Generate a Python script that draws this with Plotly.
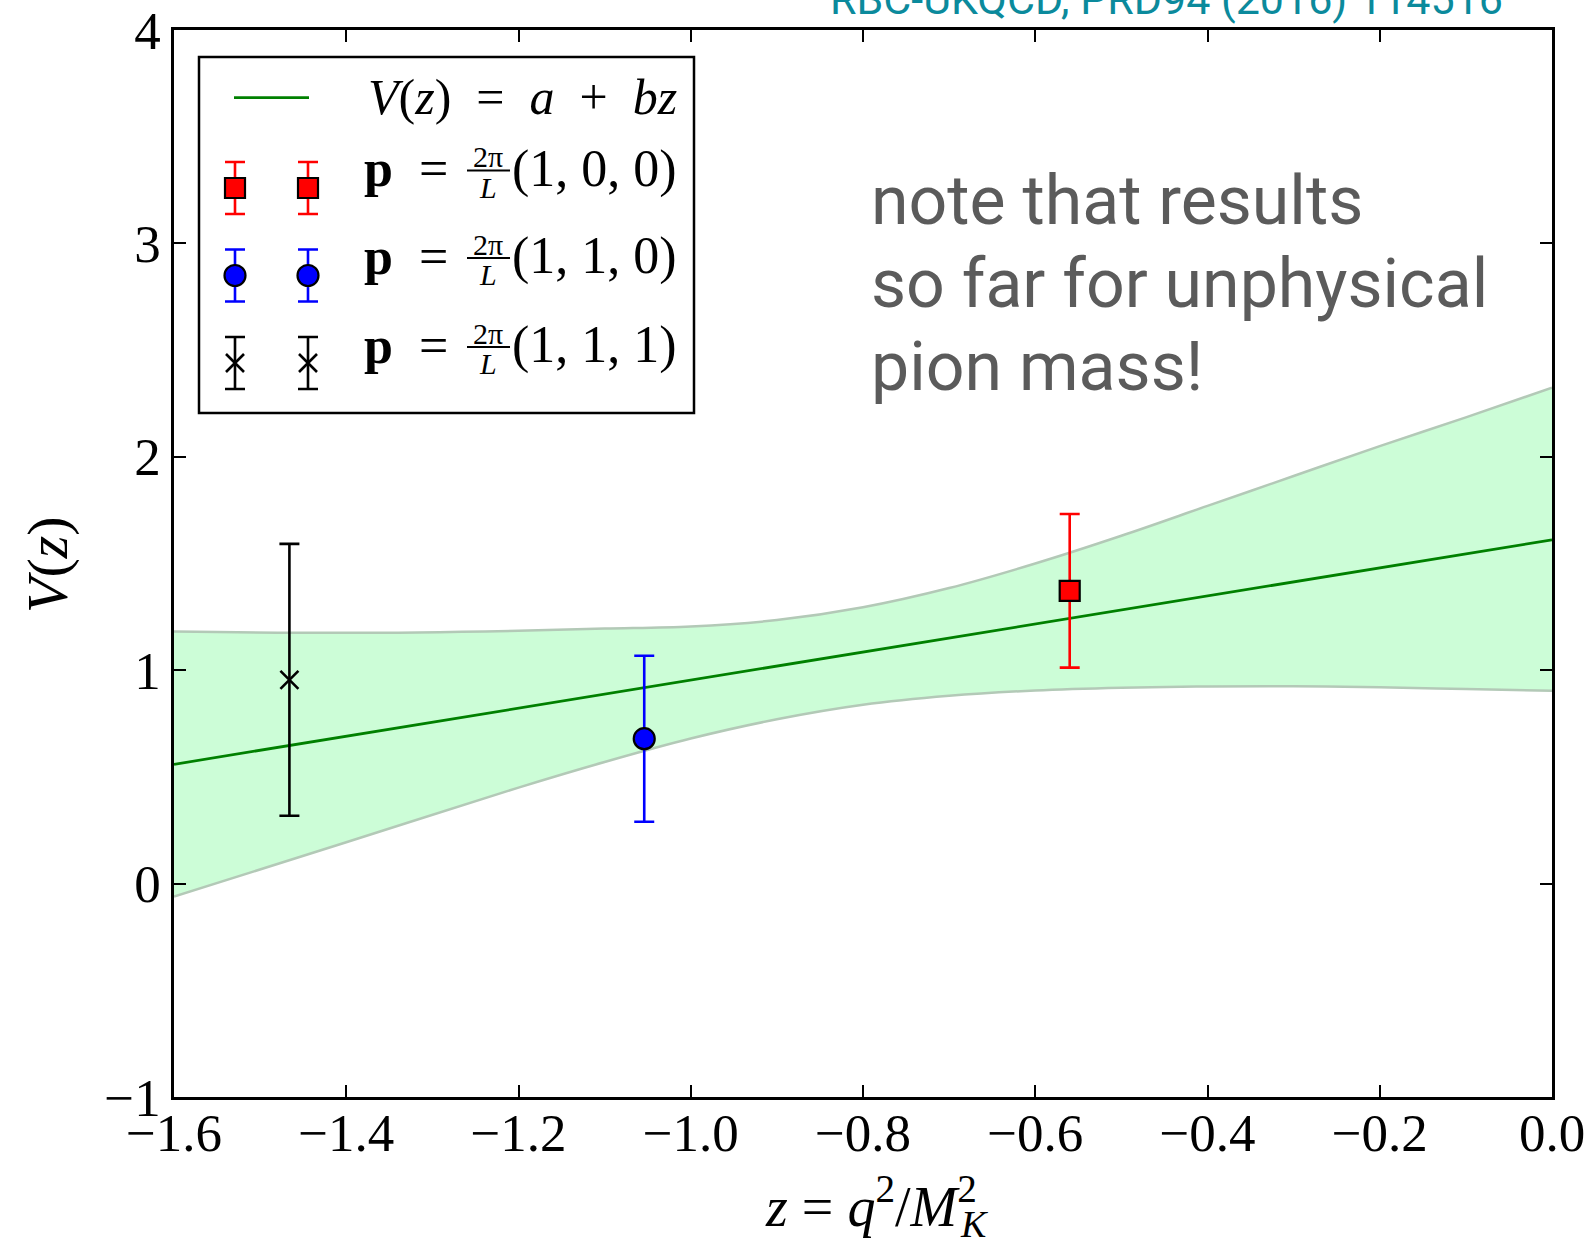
import plotly.graph_objects as go

# ---------------- data ----------------
z_111 = [-1.466]; V_111 = [0.955]; err_111 = [0.637]
z_110 = [-1.054]; V_110 = [0.679]; err_110 = [0.389]
z_100 = [-0.560]; V_100 = [1.372]; err_100 = [0.360]

fit_z = [-1.6, 0.0]
fit_V = [0.559, 1.611]

band_z = [-1.6, -1.4, -1.2, -1.1, -1.0, -0.9, -0.8, -0.7, -0.6, -0.5, -0.4, -0.3, -0.2, -0.1, 0.0]
band_upper = [1.181, 1.175, 1.185, 1.195, 1.205, 1.235, 1.295, 1.385, 1.50, 1.63, 1.77, 1.91, 2.05, 2.185, 2.324]
band_lower = [-0.061, 0.194, 0.45, 0.57, 0.68, 0.77, 0.838, 0.88, 0.905, 0.918, 0.924, 0.925, 0.92, 0.912, 0.904]

x_ticks = [-1.6, -1.4, -1.2, -1.0, -0.8, -0.6, -0.4, -0.2, 0.0]
y_ticks = [-1, 0, 1, 2, 3, 4]

legend_labels = ["(1, 0, 0)", "(1, 1, 0)", "(1, 1, 1)"]

# ---------------- styling / layout constants ----------------
W, H = 1591, 1239
L, R, T, B = 174, 39, 30, 142
PX0, PX1 = L, W - R          # plot area in pixels
PY0, PY1 = T, H - B

def px(x):
    return (x - L) / (W - L - R)

def py(y):
    return (H - B - y) / (H - T - B)

SERIF = "Liberation Serif"
SANS = "Roboto"
BAND_FILL = "#ccfdd7"
BAND_EDGE = "#b3c9b7"
GREEN = "#008000"

fig = go.Figure()

# error band
fig.add_trace(go.Scatter(x=band_z, y=band_lower, mode="lines",
                         line=dict(color=BAND_EDGE, width=2.5, shape="spline", smoothing=1.0),
                         showlegend=False, hoverinfo="skip"))
fig.add_trace(go.Scatter(x=band_z, y=band_upper, mode="lines", fill="tonexty",
                         fillcolor=BAND_FILL,
                         line=dict(color=BAND_EDGE, width=2.5, shape="spline", smoothing=1.0),
                         showlegend=False, hoverinfo="skip"))
# fit line
fig.add_trace(go.Scatter(x=fit_z, y=fit_V, mode="lines",
                         line=dict(color=GREEN, width=2.8), showlegend=False))

def err(arr, color):
    return dict(type="data", array=arr, visible=True, color=color, thickness=2.6, width=10)

MK_RED = dict(symbol="square", size=20, color="#ff0000", line=dict(color="black", width=2.2))
MK_BLUE = dict(symbol="circle", size=21, color="#0000ff", line=dict(color="black", width=2.2))
MK_X = dict(symbol="x-thin", size=18, color="black", line=dict(color="black", width=2.6))

# data points
fig.add_trace(go.Scatter(x=z_111, y=V_111, mode="markers", error_y=err(err_111, "black"),
                         marker=MK_X, showlegend=False))
fig.add_trace(go.Scatter(x=z_110, y=V_110, mode="markers", error_y=err(err_110, "#0000ff"),
                         marker=MK_BLUE, showlegend=False))
fig.add_trace(go.Scatter(x=z_100, y=V_100, mode="markers", error_y=err(err_100, "#ff0000"),
                         marker=MK_RED, showlegend=False))

# ---------------- hand-built legend (pixel overlay axes) ----------------
shapes = []
annotations = []
# legend frame
shapes.append(dict(type="rect", xref="x2", yref="y2", x0=199, x1=694, y0=57, y1=413,
                   line=dict(color="black", width=2.5), fillcolor="white", layer="below"))
# fit-line sample
shapes.append(dict(type="line", xref="x2", yref="y2", x0=234, x1=309, y0=97.7, y1=97.7,
                   line=dict(color=GREEN, width=2.8), layer="above"))

sample_x = [235, 308]
sample_rows = [188, 275.5, 363]
sample_styles = [(MK_RED, "#ff0000"), (MK_BLUE, "#0000ff"), (MK_X, "black")]
for yrow, (mk, ec) in zip(sample_rows, sample_styles):
    fig.add_trace(go.Scatter(x=sample_x, y=[yrow, yrow], xaxis="x2", yaxis="y2", mode="markers",
                             marker=mk, error_y=dict(type="constant", value=26, color=ec,
                                                     thickness=2.6, width=10),
                             showlegend=False, hoverinfo="skip"))

annotations.append(dict(xref="x2", yref="y2", x=366, y=97, xanchor="left", yanchor="middle",
                        showarrow=False,
                        text="<i>V</i>(<i>z</i>)&nbsp;&nbsp;=&nbsp;&nbsp;<i>a</i>&nbsp;&nbsp;+&nbsp;&nbsp;<i>bz</i>",
                        font=dict(family=SERIF, size=50, color="black")))
row_base = [185.5, 273, 362]
for lab, yb in zip(legend_labels, row_base):
    yc = yb - 17
    annotations.append(dict(xref="x2", yref="y2", x=362, y=yc, xanchor="left", yanchor="middle",
                            showarrow=False, text="<b>p</b>&nbsp;&nbsp;=",
                            font=dict(family=SERIF, size=52, color="black")))
    annotations.append(dict(xref="x2", yref="y2", x=488, y=yb - 29, xanchor="center",
                            yanchor="middle", showarrow=False, text="2π",
                            font=dict(family=SERIF, size=30, color="black")))
    annotations.append(dict(xref="x2", yref="y2", x=488, y=yb + 1.5, xanchor="center",
                            yanchor="middle", showarrow=False, text="<i>L</i>",
                            font=dict(family=SERIF, size=30, color="black")))
    shapes.append(dict(type="line", xref="x2", yref="y2", x0=467, x1=510, y0=yb - 15,
                       y1=yb - 15, line=dict(color="black", width=2), layer="above"))
    annotations.append(dict(xref="x2", yref="y2", x=510, y=yc, xanchor="left", yanchor="middle",
                            showarrow=False, text=lab,
                            font=dict(family=SERIF, size=52, color="black")))

# note text
note_lines = ["note that results", "so far for unphysical", "pion mass!"]
for i, line in enumerate(note_lines):
    annotations.append(dict(xref="paper", yref="paper", x=px(869), y=py(201 + 83 * i),
                            xanchor="left", yanchor="middle", showarrow=False, text=line,
                            font=dict(family=SANS, size=68, color="#5b5b5b")))

# reference (cut off at the top)
annotations.append(dict(xref="paper", yref="paper", x=px(1166), y=py(-1), xanchor="center",
                        yanchor="middle", showarrow=False, text="RBC-UKQCD, PRD94 (2016) 114516",
                        font=dict(family=SANS, size=43, color="#0b8a9c")))

# axis titles
annotations.append(dict(xref="paper", yref="paper", x=px(979), y=py(1202), xanchor="right",
                        yanchor="middle", showarrow=False,
                        text="<i>z</i> = <i>q</i><sup>2</sup>/<i>M</i><sup>2</sup>",
                        font=dict(family=SERIF, size=56, color="black")))
annotations.append(dict(xref="paper", yref="paper", x=px(958), y=py(1224), xanchor="left",
                        yanchor="middle", showarrow=False, text="<i>K</i>",
                        font=dict(family=SERIF, size=38, color="black")))
annotations.append(dict(xref="paper", yref="paper", x=px(48), y=py(564), xanchor="center",
                        yanchor="middle", showarrow=False, textangle=-90,
                        text="<i>V</i>(<i>z</i>)",
                        font=dict(family=SERIF, size=58, color="black")))

axis_common = dict(showline=True, linecolor="black", linewidth=2.5, mirror="allticks",
                   ticks="inside", ticklen=12, tickwidth=2, tickcolor="black",
                   showgrid=False, zeroline=False, automargin=False,
                   tickfont=dict(family=SERIF, size=53, color="black"))

fig.update_layout(
    width=W, height=H,
    margin=dict(l=L, r=R, t=T, b=B, pad=0, autoexpand=False),
    paper_bgcolor="white", plot_bgcolor="white",
    showlegend=False,
    xaxis=dict(range=[-1.6, 0.0], tickvals=x_ticks, tickformat=".1f",
               ticklabelstandoff=-12, **axis_common),
    yaxis=dict(range=[-1, 4], tickvals=y_ticks, ticklabelstandoff=0, **axis_common),
    xaxis2=dict(range=[PX0, PX1], overlaying="x", anchor="y2", visible=False, fixedrange=True),
    yaxis2=dict(range=[PY1, PY0], overlaying="y", anchor="x2", visible=False, fixedrange=True),
    shapes=shapes,
    annotations=annotations,
)

fig.write_html("out.html")
